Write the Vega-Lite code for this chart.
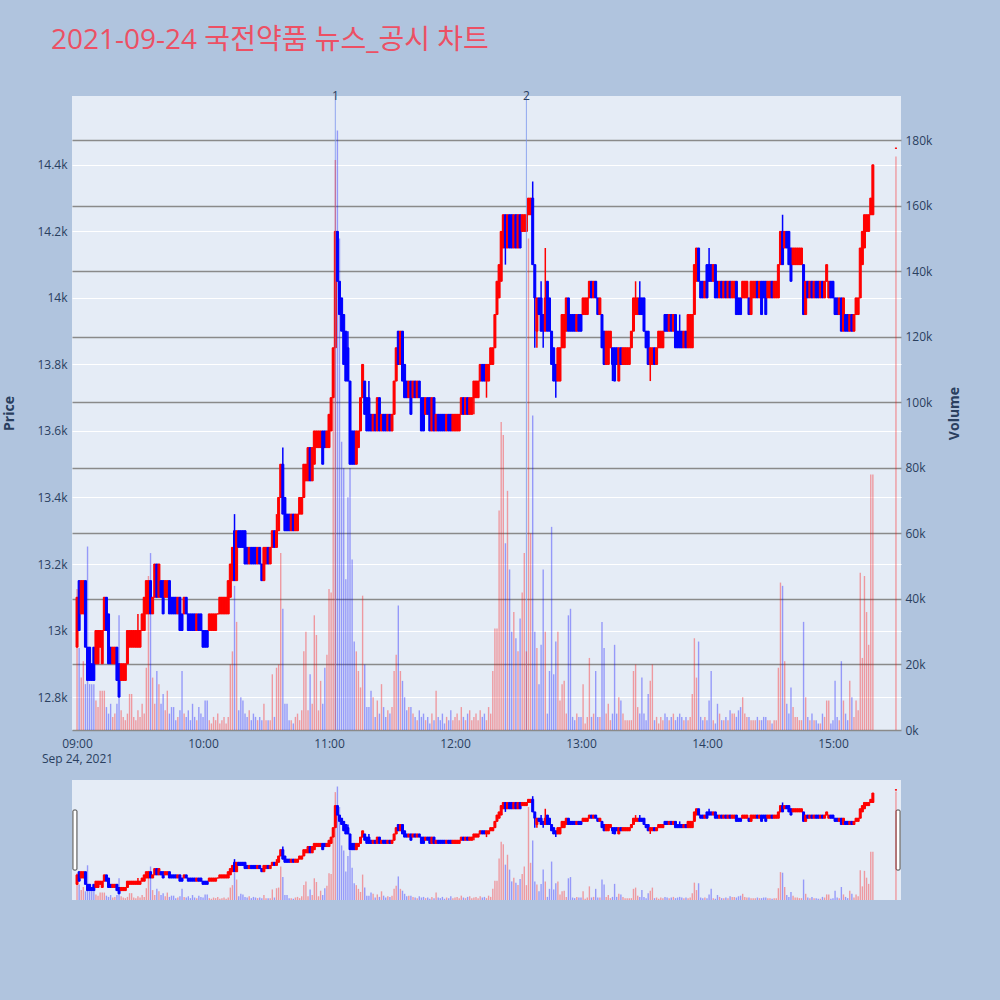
{
"$schema":"https://vega.github.io/schema/vega-lite/v6.json",
"background":"#b0c4de",
"padding":{"left":2,"top":27,"right":39,"bottom":100},
"bounds":"flush",
"spacing":50,
"title":{"text":"2021-09-24 국전약품 뉴스_공시 차트","anchor":"start","frame":"bounds","font":"Open Sans, Noto Sans CJK KR","fontSize":28,"fontWeight":"normal","color":"#ec5064","dx":49,"offset":13,"baseline":"alphabetic"},
"datasets":{
"news":[{"t":"2021-09-24T11:03","n":"1"},{"t":"2021-09-24T12:34","n":"2"}],
"k":[
{"t":"2021-09-24T09:00","o":12950,"h":13100,"l":12950,"c":13100,"v":43000},
{"t":"2021-09-24T09:01","o":13150,"h":13150,"l":13000,"c":13000,"v":25000},
{"t":"2021-09-24T09:02","o":13050,"h":13150,"l":13050,"c":13150,"v":16000},
{"t":"2021-09-24T09:03","o":13050,"h":13150,"l":13050,"c":13150,"v":21000},
{"t":"2021-09-24T09:04","o":13150,"h":13150,"l":12950,"c":12950,"v":14000},
{"t":"2021-09-24T09:05","o":12950,"h":12950,"l":12850,"c":12850,"v":56000},
{"t":"2021-09-24T09:06","o":12950,"h":12950,"l":12850,"c":12850,"v":14000},
{"t":"2021-09-24T09:07","o":12900,"h":12900,"l":12850,"c":12850,"v":14000},
{"t":"2021-09-24T09:08","o":12950,"h":12950,"l":12850,"c":12850,"v":14000},
{"t":"2021-09-24T09:09","o":12900,"h":13000,"l":12900,"c":13000,"v":9000},
{"t":"2021-09-24T09:10","o":12900,"h":13000,"l":12900,"c":13000,"v":7000},
{"t":"2021-09-24T09:11","o":12950,"h":13000,"l":12950,"c":13000,"v":12000},
{"t":"2021-09-24T09:12","o":12900,"h":13000,"l":12900,"c":13000,"v":12000},
{"t":"2021-09-24T09:13","o":13000,"h":13100,"l":13000,"c":13100,"v":12000},
{"t":"2021-09-24T09:14","o":13100,"h":13100,"l":13000,"c":13000,"v":7000},
{"t":"2021-09-24T09:15","o":13050,"h":13050,"l":12900,"c":12900,"v":5000},
{"t":"2021-09-24T09:16","o":12950,"h":12950,"l":12900,"c":12900,"v":8000},
{"t":"2021-09-24T09:17","o":12900,"h":12950,"l":12900,"c":12950,"v":4000},
{"t":"2021-09-24T09:18","o":12900,"h":12950,"l":12900,"c":12950,"v":5000},
{"t":"2021-09-24T09:19","o":12950,"h":12950,"l":12850,"c":12850,"v":8000},
{"t":"2021-09-24T09:20","o":12900,"h":12900,"l":12800,"c":12800,"v":35000},
{"t":"2021-09-24T09:21","o":12850,"h":12900,"l":12850,"c":12900,"v":6000},
{"t":"2021-09-24T09:22","o":12850,"h":12900,"l":12850,"c":12900,"v":4000},
{"t":"2021-09-24T09:23","o":12850,"h":12900,"l":12850,"c":12900,"v":3000},
{"t":"2021-09-24T09:24","o":12900,"h":13000,"l":12900,"c":13000,"v":5000},
{"t":"2021-09-24T09:25","o":12950,"h":13000,"l":12950,"c":13000,"v":11000},
{"t":"2021-09-24T09:26","o":12950,"h":13000,"l":12950,"c":13000,"v":11000},
{"t":"2021-09-24T09:27","o":12950,"h":13000,"l":12950,"c":13000,"v":4000},
{"t":"2021-09-24T09:28","o":12950,"h":13000,"l":12950,"c":13000,"v":3000},
{"t":"2021-09-24T09:29","o":12950,"h":13050,"l":12950,"c":13000,"v":6000},
{"t":"2021-09-24T09:30","o":12950,"h":13000,"l":12950,"c":13000,"v":4000},
{"t":"2021-09-24T09:31","o":13000,"h":13050,"l":13000,"c":13050,"v":8000},
{"t":"2021-09-24T09:32","o":13000,"h":13100,"l":13000,"c":13100,"v":5000},
{"t":"2021-09-24T09:33","o":13050,"h":13150,"l":13050,"c":13150,"v":19000},
{"t":"2021-09-24T09:34","o":13050,"h":13150,"l":13050,"c":13150,"v":47000},
{"t":"2021-09-24T09:35","o":13150,"h":13150,"l":13050,"c":13050,"v":54000},
{"t":"2021-09-24T09:36","o":13050,"h":13100,"l":13050,"c":13100,"v":16000},
{"t":"2021-09-24T09:37","o":13100,"h":13200,"l":13100,"c":13200,"v":8000},
{"t":"2021-09-24T09:38","o":13200,"h":13200,"l":13100,"c":13100,"v":18000},
{"t":"2021-09-24T09:39","o":13100,"h":13200,"l":13100,"c":13200,"v":14000},
{"t":"2021-09-24T09:40","o":13150,"h":13150,"l":13100,"c":13100,"v":8000},
{"t":"2021-09-24T09:41","o":13150,"h":13150,"l":13050,"c":13050,"v":11000},
{"t":"2021-09-24T09:42","o":13100,"h":13150,"l":13100,"c":13150,"v":6000},
{"t":"2021-09-24T09:43","o":13100,"h":13150,"l":13100,"c":13150,"v":12000},
{"t":"2021-09-24T09:44","o":13150,"h":13150,"l":13050,"c":13050,"v":5000},
{"t":"2021-09-24T09:45","o":13100,"h":13100,"l":13050,"c":13050,"v":7000},
{"t":"2021-09-24T09:46","o":13100,"h":13100,"l":13050,"c":13050,"v":7000},
{"t":"2021-09-24T09:47","o":13100,"h":13100,"l":13050,"c":13050,"v":3000},
{"t":"2021-09-24T09:48","o":13050,"h":13100,"l":13050,"c":13100,"v":4000},
{"t":"2021-09-24T09:49","o":13100,"h":13100,"l":13000,"c":13000,"v":6000},
{"t":"2021-09-24T09:50","o":13050,"h":13050,"l":13000,"c":13000,"v":18000},
{"t":"2021-09-24T09:51","o":13050,"h":13100,"l":13050,"c":13100,"v":5000},
{"t":"2021-09-24T09:52","o":13100,"h":13100,"l":13050,"c":13050,"v":4000},
{"t":"2021-09-24T09:53","o":13050,"h":13050,"l":13000,"c":13000,"v":6000},
{"t":"2021-09-24T09:54","o":13050,"h":13050,"l":13000,"c":13000,"v":3000},
{"t":"2021-09-24T09:55","o":13050,"h":13050,"l":13000,"c":13000,"v":8000},
{"t":"2021-09-24T09:56","o":13050,"h":13050,"l":13000,"c":13000,"v":4000},
{"t":"2021-09-24T09:57","o":13000,"h":13050,"l":13000,"c":13050,"v":3000},
{"t":"2021-09-24T09:58","o":13050,"h":13050,"l":13000,"c":13000,"v":7000},
{"t":"2021-09-24T09:59","o":13050,"h":13050,"l":13000,"c":13000,"v":5000},
{"t":"2021-09-24T10:00","o":13000,"h":13000,"l":12950,"c":12950,"v":4000},
{"t":"2021-09-24T10:01","o":13000,"h":13000,"l":12950,"c":12950,"v":9000},
{"t":"2021-09-24T10:02","o":13000,"h":13000,"l":12950,"c":12950,"v":9000},
{"t":"2021-09-24T10:03","o":13000,"h":13050,"l":13000,"c":13050,"v":3000},
{"t":"2021-09-24T10:04","o":13000,"h":13050,"l":13000,"c":13050,"v":2000},
{"t":"2021-09-24T10:05","o":13000,"h":13050,"l":13000,"c":13050,"v":4000},
{"t":"2021-09-24T10:06","o":13000,"h":13050,"l":13000,"c":13050,"v":3000},
{"t":"2021-09-24T10:07","o":13050,"h":13050,"l":13050,"c":13050,"v":5000},
{"t":"2021-09-24T10:08","o":13050,"h":13100,"l":13050,"c":13100,"v":2000},
{"t":"2021-09-24T10:09","o":13050,"h":13100,"l":13050,"c":13100,"v":3000},
{"t":"2021-09-24T10:10","o":13050,"h":13100,"l":13050,"c":13100,"v":4000},
{"t":"2021-09-24T10:11","o":13050,"h":13100,"l":13050,"c":13100,"v":2000},
{"t":"2021-09-24T10:12","o":13050,"h":13150,"l":13050,"c":13150,"v":4000},
{"t":"2021-09-24T10:13","o":13100,"h":13200,"l":13100,"c":13200,"v":20000},
{"t":"2021-09-24T10:14","o":13150,"h":13250,"l":13150,"c":13250,"v":24000},
{"t":"2021-09-24T10:15","o":13300,"h":13350,"l":13150,"c":13150,"v":44000},
{"t":"2021-09-24T10:16","o":13150,"h":13300,"l":13150,"c":13300,"v":33000},
{"t":"2021-09-24T10:17","o":13300,"h":13300,"l":13250,"c":13250,"v":6000},
{"t":"2021-09-24T10:18","o":13300,"h":13300,"l":13250,"c":13250,"v":10000},
{"t":"2021-09-24T10:19","o":13300,"h":13300,"l":13250,"c":13250,"v":9000},
{"t":"2021-09-24T10:20","o":13300,"h":13300,"l":13200,"c":13200,"v":5000},
{"t":"2021-09-24T10:21","o":13250,"h":13250,"l":13200,"c":13200,"v":4000},
{"t":"2021-09-24T10:22","o":13200,"h":13250,"l":13200,"c":13250,"v":6000},
{"t":"2021-09-24T10:23","o":13250,"h":13250,"l":13200,"c":13200,"v":3000},
{"t":"2021-09-24T10:24","o":13250,"h":13250,"l":13200,"c":13200,"v":5000},
{"t":"2021-09-24T10:25","o":13250,"h":13250,"l":13200,"c":13200,"v":4000},
{"t":"2021-09-24T10:26","o":13200,"h":13250,"l":13200,"c":13250,"v":3000},
{"t":"2021-09-24T10:27","o":13250,"h":13250,"l":13200,"c":13200,"v":4000},
{"t":"2021-09-24T10:28","o":13200,"h":13200,"l":13150,"c":13150,"v":3000},
{"t":"2021-09-24T10:29","o":13150,"h":13250,"l":13150,"c":13250,"v":8000},
{"t":"2021-09-24T10:30","o":13200,"h":13250,"l":13200,"c":13250,"v":3000},
{"t":"2021-09-24T10:31","o":13250,"h":13250,"l":13200,"c":13200,"v":3000},
{"t":"2021-09-24T10:32","o":13200,"h":13250,"l":13200,"c":13250,"v":3000},
{"t":"2021-09-24T10:33","o":13250,"h":13300,"l":13250,"c":13300,"v":17000},
{"t":"2021-09-24T10:34","o":13300,"h":13300,"l":13250,"c":13250,"v":4000},
{"t":"2021-09-24T10:35","o":13250,"h":13350,"l":13250,"c":13300,"v":19000},
{"t":"2021-09-24T10:36","o":13300,"h":13400,"l":13300,"c":13400,"v":20000},
{"t":"2021-09-24T10:37","o":13400,"h":13500,"l":13400,"c":13500,"v":54000},
{"t":"2021-09-24T10:38","o":13500,"h":13550,"l":13350,"c":13350,"v":37000},
{"t":"2021-09-24T10:39","o":13400,"h":13400,"l":13300,"c":13300,"v":8000},
{"t":"2021-09-24T10:40","o":13350,"h":13350,"l":13300,"c":13300,"v":8000},
{"t":"2021-09-24T10:41","o":13350,"h":13350,"l":13300,"c":13300,"v":3000},
{"t":"2021-09-24T10:42","o":13300,"h":13350,"l":13300,"c":13350,"v":3000},
{"t":"2021-09-24T10:43","o":13350,"h":13350,"l":13300,"c":13300,"v":2000},
{"t":"2021-09-24T10:44","o":13300,"h":13350,"l":13300,"c":13350,"v":4000},
{"t":"2021-09-24T10:45","o":13300,"h":13350,"l":13300,"c":13350,"v":5000},
{"t":"2021-09-24T10:46","o":13350,"h":13400,"l":13350,"c":13400,"v":3000},
{"t":"2021-09-24T10:47","o":13350,"h":13400,"l":13350,"c":13400,"v":6000},
{"t":"2021-09-24T10:48","o":13400,"h":13500,"l":13400,"c":13500,"v":24000},
{"t":"2021-09-24T10:49","o":13450,"h":13500,"l":13450,"c":13500,"v":30000},
{"t":"2021-09-24T10:50","o":13450,"h":13550,"l":13450,"c":13550,"v":6000},
{"t":"2021-09-24T10:51","o":13550,"h":13550,"l":13450,"c":13450,"v":17000},
{"t":"2021-09-24T10:52","o":13450,"h":13550,"l":13450,"c":13550,"v":8000},
{"t":"2021-09-24T10:53","o":13500,"h":13600,"l":13500,"c":13600,"v":35000},
{"t":"2021-09-24T10:54","o":13550,"h":13600,"l":13550,"c":13600,"v":29000},
{"t":"2021-09-24T10:55","o":13550,"h":13600,"l":13550,"c":13600,"v":6000},
{"t":"2021-09-24T10:56","o":13550,"h":13600,"l":13550,"c":13600,"v":15000},
{"t":"2021-09-24T10:57","o":13600,"h":13600,"l":13500,"c":13500,"v":8000},
{"t":"2021-09-24T10:58","o":13600,"h":13600,"l":13550,"c":13550,"v":19000},
{"t":"2021-09-24T10:59","o":13550,"h":13600,"l":13550,"c":13600,"v":23000},
{"t":"2021-09-24T11:00","o":13550,"h":13650,"l":13550,"c":13650,"v":43000},
{"t":"2021-09-24T11:01","o":13600,"h":13700,"l":13600,"c":13700,"v":42000},
{"t":"2021-09-24T11:02","o":13700,"h":13850,"l":13700,"c":13850,"v":115000},
{"t":"2021-09-24T11:03","o":13850,"h":14200,"l":13850,"c":14200,"v":174000},
{"t":"2021-09-24T11:04","o":14200,"h":14200,"l":14050,"c":14050,"v":183000},
{"t":"2021-09-24T11:05","o":14050,"h":14050,"l":13950,"c":13950,"v":150000},
{"t":"2021-09-24T11:06","o":14000,"h":14000,"l":13900,"c":13900,"v":88000},
{"t":"2021-09-24T11:07","o":13950,"h":13950,"l":13800,"c":13800,"v":80000},
{"t":"2021-09-24T11:08","o":13900,"h":13900,"l":13750,"c":13750,"v":46000},
{"t":"2021-09-24T11:09","o":13850,"h":13900,"l":13750,"c":13750,"v":71000},
{"t":"2021-09-24T11:10","o":13750,"h":13750,"l":13500,"c":13500,"v":80000},
{"t":"2021-09-24T11:11","o":13600,"h":13600,"l":13500,"c":13500,"v":52000},
{"t":"2021-09-24T11:12","o":13600,"h":13600,"l":13500,"c":13500,"v":27000},
{"t":"2021-09-24T11:13","o":13500,"h":13600,"l":13500,"c":13600,"v":24000},
{"t":"2021-09-24T11:14","o":13550,"h":13600,"l":13550,"c":13600,"v":18000},
{"t":"2021-09-24T11:15","o":13600,"h":13700,"l":13600,"c":13700,"v":13000},
{"t":"2021-09-24T11:16","o":13700,"h":13800,"l":13700,"c":13800,"v":41000},
{"t":"2021-09-24T11:17","o":13750,"h":13750,"l":13650,"c":13650,"v":20000},
{"t":"2021-09-24T11:18","o":13700,"h":13700,"l":13600,"c":13600,"v":7000},
{"t":"2021-09-24T11:19","o":13700,"h":13750,"l":13600,"c":13600,"v":7000},
{"t":"2021-09-24T11:20","o":13650,"h":13650,"l":13600,"c":13600,"v":12000},
{"t":"2021-09-24T11:21","o":13600,"h":13650,"l":13600,"c":13650,"v":10000},
{"t":"2021-09-24T11:22","o":13650,"h":13650,"l":13600,"c":13600,"v":4000},
{"t":"2021-09-24T11:23","o":13600,"h":13700,"l":13600,"c":13700,"v":9000},
{"t":"2021-09-24T11:24","o":13700,"h":13700,"l":13600,"c":13600,"v":5000},
{"t":"2021-09-24T11:25","o":13600,"h":13650,"l":13600,"c":13650,"v":14000},
{"t":"2021-09-24T11:26","o":13650,"h":13650,"l":13600,"c":13600,"v":7000},
{"t":"2021-09-24T11:27","o":13650,"h":13650,"l":13600,"c":13600,"v":4000},
{"t":"2021-09-24T11:28","o":13600,"h":13650,"l":13600,"c":13650,"v":6000},
{"t":"2021-09-24T11:29","o":13650,"h":13650,"l":13600,"c":13600,"v":5000},
{"t":"2021-09-24T11:30","o":13600,"h":13650,"l":13600,"c":13650,"v":7000},
{"t":"2021-09-24T11:31","o":13650,"h":13750,"l":13650,"c":13750,"v":18000},
{"t":"2021-09-24T11:32","o":13750,"h":13850,"l":13750,"c":13850,"v":23000},
{"t":"2021-09-24T11:33","o":13900,"h":13900,"l":13800,"c":13800,"v":38000},
{"t":"2021-09-24T11:34","o":13800,"h":13900,"l":13800,"c":13900,"v":18000},
{"t":"2021-09-24T11:35","o":13900,"h":13900,"l":13750,"c":13750,"v":15000},
{"t":"2021-09-24T11:36","o":13800,"h":13800,"l":13700,"c":13700,"v":10000},
{"t":"2021-09-24T11:37","o":13750,"h":13750,"l":13700,"c":13700,"v":6000},
{"t":"2021-09-24T11:38","o":13700,"h":13750,"l":13700,"c":13750,"v":7000},
{"t":"2021-09-24T11:39","o":13750,"h":13750,"l":13650,"c":13650,"v":7000},
{"t":"2021-09-24T11:40","o":13700,"h":13750,"l":13700,"c":13750,"v":5000},
{"t":"2021-09-24T11:41","o":13750,"h":13750,"l":13700,"c":13700,"v":4000},
{"t":"2021-09-24T11:42","o":13700,"h":13750,"l":13700,"c":13750,"v":3000},
{"t":"2021-09-24T11:43","o":13750,"h":13750,"l":13700,"c":13700,"v":6000},
{"t":"2021-09-24T11:44","o":13700,"h":13700,"l":13600,"c":13600,"v":4000},
{"t":"2021-09-24T11:45","o":13700,"h":13700,"l":13600,"c":13600,"v":5000},
{"t":"2021-09-24T11:46","o":13650,"h":13700,"l":13650,"c":13700,"v":3000},
{"t":"2021-09-24T11:47","o":13700,"h":13700,"l":13650,"c":13650,"v":4000},
{"t":"2021-09-24T11:48","o":13700,"h":13700,"l":13600,"c":13600,"v":2000},
{"t":"2021-09-24T11:49","o":13600,"h":13700,"l":13600,"c":13700,"v":5000},
{"t":"2021-09-24T11:50","o":13700,"h":13700,"l":13600,"c":13600,"v":3000},
{"t":"2021-09-24T11:51","o":13600,"h":13650,"l":13600,"c":13650,"v":12000},
{"t":"2021-09-24T11:52","o":13650,"h":13650,"l":13600,"c":13600,"v":4000},
{"t":"2021-09-24T11:53","o":13650,"h":13650,"l":13600,"c":13600,"v":3000},
{"t":"2021-09-24T11:54","o":13650,"h":13650,"l":13600,"c":13600,"v":5000},
{"t":"2021-09-24T11:55","o":13650,"h":13650,"l":13600,"c":13600,"v":2000},
{"t":"2021-09-24T11:56","o":13600,"h":13650,"l":13600,"c":13650,"v":4000},
{"t":"2021-09-24T11:57","o":13650,"h":13650,"l":13600,"c":13600,"v":3000},
{"t":"2021-09-24T11:58","o":13650,"h":13650,"l":13600,"c":13600,"v":6000},
{"t":"2021-09-24T11:59","o":13600,"h":13650,"l":13600,"c":13650,"v":3000},
{"t":"2021-09-24T12:00","o":13600,"h":13650,"l":13600,"c":13650,"v":4000},
{"t":"2021-09-24T12:01","o":13600,"h":13650,"l":13600,"c":13650,"v":5000},
{"t":"2021-09-24T12:02","o":13600,"h":13650,"l":13600,"c":13650,"v":3000},
{"t":"2021-09-24T12:03","o":13650,"h":13700,"l":13650,"c":13700,"v":7000},
{"t":"2021-09-24T12:04","o":13700,"h":13700,"l":13650,"c":13650,"v":4000},
{"t":"2021-09-24T12:05","o":13650,"h":13700,"l":13650,"c":13700,"v":3000},
{"t":"2021-09-24T12:06","o":13700,"h":13700,"l":13650,"c":13650,"v":5000},
{"t":"2021-09-24T12:07","o":13650,"h":13700,"l":13650,"c":13700,"v":6000},
{"t":"2021-09-24T12:08","o":13650,"h":13700,"l":13650,"c":13700,"v":3000},
{"t":"2021-09-24T12:09","o":13700,"h":13750,"l":13650,"c":13750,"v":4000},
{"t":"2021-09-24T12:10","o":13700,"h":13750,"l":13700,"c":13750,"v":5000},
{"t":"2021-09-24T12:11","o":13700,"h":13750,"l":13700,"c":13750,"v":3000},
{"t":"2021-09-24T12:12","o":13750,"h":13800,"l":13750,"c":13800,"v":6000},
{"t":"2021-09-24T12:13","o":13800,"h":13800,"l":13750,"c":13750,"v":4000},
{"t":"2021-09-24T12:14","o":13800,"h":13800,"l":13750,"c":13750,"v":5000},
{"t":"2021-09-24T12:15","o":13750,"h":13800,"l":13700,"c":13800,"v":3000},
{"t":"2021-09-24T12:16","o":13750,"h":13800,"l":13750,"c":13800,"v":7000},
{"t":"2021-09-24T12:17","o":13800,"h":13850,"l":13800,"c":13850,"v":5000},
{"t":"2021-09-24T12:18","o":13800,"h":13850,"l":13800,"c":13850,"v":18000},
{"t":"2021-09-24T12:19","o":13850,"h":13950,"l":13850,"c":13950,"v":31000},
{"t":"2021-09-24T12:20","o":13950,"h":14050,"l":13950,"c":14050,"v":31000},
{"t":"2021-09-24T12:21","o":14000,"h":14100,"l":14000,"c":14100,"v":67000},
{"t":"2021-09-24T12:22","o":14050,"h":14200,"l":14050,"c":14200,"v":94000},
{"t":"2021-09-24T12:23","o":14150,"h":14250,"l":14150,"c":14250,"v":90000},
{"t":"2021-09-24T12:24","o":14250,"h":14250,"l":14100,"c":14150,"v":57000},
{"t":"2021-09-24T12:25","o":14150,"h":14250,"l":14150,"c":14250,"v":73000},
{"t":"2021-09-24T12:26","o":14250,"h":14250,"l":14150,"c":14150,"v":49000},
{"t":"2021-09-24T12:27","o":14250,"h":14250,"l":14150,"c":14150,"v":30000},
{"t":"2021-09-24T12:28","o":14150,"h":14250,"l":14150,"c":14250,"v":36000},
{"t":"2021-09-24T12:29","o":14250,"h":14250,"l":14150,"c":14150,"v":28000},
{"t":"2021-09-24T12:30","o":14150,"h":14250,"l":14150,"c":14250,"v":24000},
{"t":"2021-09-24T12:31","o":14250,"h":14250,"l":14150,"c":14150,"v":34000},
{"t":"2021-09-24T12:32","o":14200,"h":14250,"l":14200,"c":14250,"v":42000},
{"t":"2021-09-24T12:33","o":14200,"h":14250,"l":14200,"c":14250,"v":54000},
{"t":"2021-09-24T12:34","o":14200,"h":14250,"l":14200,"c":14250,"v":24000},
{"t":"2021-09-24T12:35","o":14250,"h":14300,"l":14250,"c":14300,"v":150000},
{"t":"2021-09-24T12:36","o":14250,"h":14300,"l":14250,"c":14300,"v":60000},
{"t":"2021-09-24T12:37","o":14300,"h":14350,"l":14100,"c":14100,"v":96000},
{"t":"2021-09-24T12:38","o":14100,"h":14100,"l":13850,"c":14000,"v":30000},
{"t":"2021-09-24T12:39","o":13900,"h":14000,"l":13850,"c":14000,"v":25000},
{"t":"2021-09-24T12:40","o":14000,"h":14000,"l":13950,"c":13950,"v":14000},
{"t":"2021-09-24T12:41","o":14000,"h":14050,"l":13900,"c":13900,"v":26000},
{"t":"2021-09-24T12:42","o":13950,"h":13950,"l":13850,"c":13900,"v":49000},
{"t":"2021-09-24T12:43","o":13900,"h":14150,"l":13900,"c":14000,"v":30000},
{"t":"2021-09-24T12:44","o":14050,"h":14050,"l":13900,"c":13900,"v":5000},
{"t":"2021-09-24T12:45","o":14000,"h":14000,"l":13900,"c":13900,"v":18000},
{"t":"2021-09-24T12:46","o":13900,"h":13900,"l":13800,"c":13800,"v":62000},
{"t":"2021-09-24T12:47","o":13850,"h":13850,"l":13750,"c":13750,"v":17000},
{"t":"2021-09-24T12:48","o":13800,"h":13800,"l":13700,"c":13750,"v":27000},
{"t":"2021-09-24T12:49","o":13750,"h":13850,"l":13750,"c":13850,"v":30000},
{"t":"2021-09-24T12:50","o":13750,"h":13850,"l":13750,"c":13850,"v":9000},
{"t":"2021-09-24T12:51","o":13850,"h":13950,"l":13850,"c":13950,"v":14000},
{"t":"2021-09-24T12:52","o":13850,"h":13950,"l":13850,"c":13950,"v":15000},
{"t":"2021-09-24T12:53","o":13900,"h":14000,"l":13900,"c":14000,"v":5000},
{"t":"2021-09-24T12:54","o":14000,"h":14000,"l":13900,"c":13900,"v":35000},
{"t":"2021-09-24T12:55","o":13950,"h":13950,"l":13900,"c":13900,"v":37000},
{"t":"2021-09-24T12:56","o":13950,"h":13950,"l":13900,"c":13900,"v":4000},
{"t":"2021-09-24T12:57","o":13950,"h":13950,"l":13900,"c":13900,"v":3000},
{"t":"2021-09-24T12:58","o":13900,"h":13950,"l":13900,"c":13950,"v":5000},
{"t":"2021-09-24T12:59","o":13950,"h":13950,"l":13900,"c":13900,"v":4000},
{"t":"2021-09-24T13:00","o":13950,"h":13950,"l":13900,"c":13900,"v":4000},
{"t":"2021-09-24T13:01","o":13950,"h":14000,"l":13950,"c":14000,"v":14000},
{"t":"2021-09-24T13:02","o":13950,"h":14000,"l":13950,"c":14000,"v":2000},
{"t":"2021-09-24T13:03","o":13950,"h":14000,"l":13950,"c":14000,"v":4000},
{"t":"2021-09-24T13:04","o":14000,"h":14050,"l":14000,"c":14050,"v":22000},
{"t":"2021-09-24T13:05","o":14050,"h":14050,"l":14000,"c":14000,"v":4000},
{"t":"2021-09-24T13:06","o":14000,"h":14050,"l":14000,"c":14050,"v":5000},
{"t":"2021-09-24T13:07","o":14050,"h":14050,"l":14000,"c":14000,"v":18000},
{"t":"2021-09-24T13:08","o":14000,"h":14000,"l":13950,"c":13950,"v":4000},
{"t":"2021-09-24T13:09","o":13950,"h":14000,"l":13950,"c":14000,"v":4000},
{"t":"2021-09-24T13:10","o":13950,"h":13950,"l":13850,"c":13850,"v":33000},
{"t":"2021-09-24T13:11","o":13900,"h":13900,"l":13800,"c":13800,"v":25000},
{"t":"2021-09-24T13:12","o":13800,"h":13900,"l":13800,"c":13900,"v":5000},
{"t":"2021-09-24T13:13","o":13800,"h":13900,"l":13800,"c":13900,"v":8000},
{"t":"2021-09-24T13:14","o":13850,"h":13900,"l":13850,"c":13900,"v":3000},
{"t":"2021-09-24T13:15","o":13850,"h":13850,"l":13750,"c":13800,"v":5000},
{"t":"2021-09-24T13:16","o":13850,"h":13850,"l":13750,"c":13750,"v":26000},
{"t":"2021-09-24T13:17","o":13850,"h":13850,"l":13800,"c":13800,"v":5000},
{"t":"2021-09-24T13:18","o":13750,"h":13850,"l":13750,"c":13850,"v":10000},
{"t":"2021-09-24T13:19","o":13850,"h":13850,"l":13800,"c":13800,"v":9000},
{"t":"2021-09-24T13:20","o":13800,"h":13850,"l":13800,"c":13850,"v":5000},
{"t":"2021-09-24T13:21","o":13800,"h":13850,"l":13800,"c":13850,"v":3000},
{"t":"2021-09-24T13:22","o":13800,"h":13850,"l":13800,"c":13850,"v":3000},
{"t":"2021-09-24T13:23","o":13800,"h":13850,"l":13800,"c":13850,"v":3000},
{"t":"2021-09-24T13:24","o":13850,"h":13900,"l":13850,"c":13900,"v":3000},
{"t":"2021-09-24T13:25","o":13900,"h":14000,"l":13900,"c":14000,"v":18000},
{"t":"2021-09-24T13:26","o":13950,"h":14050,"l":13950,"c":14000,"v":20000},
{"t":"2021-09-24T13:27","o":13950,"h":14000,"l":13950,"c":14000,"v":7000},
{"t":"2021-09-24T13:28","o":14000,"h":14050,"l":13950,"c":13950,"v":5000},
{"t":"2021-09-24T13:29","o":14000,"h":14000,"l":13950,"c":13950,"v":16000},
{"t":"2021-09-24T13:30","o":14000,"h":14000,"l":13900,"c":13900,"v":5000},
{"t":"2021-09-24T13:31","o":13900,"h":13900,"l":13850,"c":13850,"v":3000},
{"t":"2021-09-24T13:32","o":13900,"h":13900,"l":13800,"c":13800,"v":11000},
{"t":"2021-09-24T13:33","o":13800,"h":13850,"l":13750,"c":13850,"v":15000},
{"t":"2021-09-24T13:34","o":13800,"h":13850,"l":13800,"c":13850,"v":20000},
{"t":"2021-09-24T13:35","o":13850,"h":13850,"l":13800,"c":13800,"v":3000},
{"t":"2021-09-24T13:36","o":13800,"h":13850,"l":13800,"c":13850,"v":4000},
{"t":"2021-09-24T13:37","o":13850,"h":13900,"l":13850,"c":13900,"v":2000},
{"t":"2021-09-24T13:38","o":13850,"h":13900,"l":13850,"c":13900,"v":4000},
{"t":"2021-09-24T13:39","o":13850,"h":13900,"l":13850,"c":13900,"v":3000},
{"t":"2021-09-24T13:40","o":13950,"h":13950,"l":13900,"c":13900,"v":5000},
{"t":"2021-09-24T13:41","o":13950,"h":13950,"l":13900,"c":13900,"v":4000},
{"t":"2021-09-24T13:42","o":13900,"h":13950,"l":13900,"c":13950,"v":3000},
{"t":"2021-09-24T13:43","o":13950,"h":13950,"l":13900,"c":13900,"v":4000},
{"t":"2021-09-24T13:44","o":13900,"h":13950,"l":13900,"c":13950,"v":5000},
{"t":"2021-09-24T13:45","o":13950,"h":13950,"l":13850,"c":13850,"v":3000},
{"t":"2021-09-24T13:46","o":13900,"h":13900,"l":13850,"c":13850,"v":4000},
{"t":"2021-09-24T13:47","o":13900,"h":13950,"l":13850,"c":13850,"v":5000},
{"t":"2021-09-24T13:48","o":13900,"h":13900,"l":13850,"c":13850,"v":4000},
{"t":"2021-09-24T13:49","o":13850,"h":13900,"l":13850,"c":13900,"v":3000},
{"t":"2021-09-24T13:50","o":13900,"h":13900,"l":13850,"c":13850,"v":4000},
{"t":"2021-09-24T13:51","o":13850,"h":13950,"l":13850,"c":13950,"v":3000},
{"t":"2021-09-24T13:52","o":13850,"h":13950,"l":13850,"c":13950,"v":4000},
{"t":"2021-09-24T13:53","o":13850,"h":13950,"l":13850,"c":13950,"v":11000},
{"t":"2021-09-24T13:54","o":13950,"h":14100,"l":13950,"c":14100,"v":28000},
{"t":"2021-09-24T13:55","o":14050,"h":14150,"l":14050,"c":14150,"v":16000},
{"t":"2021-09-24T13:56","o":14150,"h":14150,"l":14050,"c":14050,"v":27000},
{"t":"2021-09-24T13:57","o":14050,"h":14050,"l":14000,"c":14000,"v":4000},
{"t":"2021-09-24T13:58","o":14050,"h":14050,"l":14000,"c":14000,"v":3000},
{"t":"2021-09-24T13:59","o":14000,"h":14050,"l":14000,"c":14050,"v":4000},
{"t":"2021-09-24T14:00","o":14100,"h":14100,"l":14000,"c":14000,"v":3000},
{"t":"2021-09-24T14:01","o":14100,"h":14150,"l":14050,"c":14050,"v":9000},
{"t":"2021-09-24T14:02","o":14100,"h":14100,"l":14050,"c":14050,"v":18000},
{"t":"2021-09-24T14:03","o":14050,"h":14100,"l":14050,"c":14100,"v":3000},
{"t":"2021-09-24T14:04","o":14100,"h":14100,"l":14000,"c":14000,"v":2000},
{"t":"2021-09-24T14:05","o":14050,"h":14050,"l":14000,"c":14000,"v":8000},
{"t":"2021-09-24T14:06","o":14000,"h":14050,"l":14000,"c":14050,"v":5000},
{"t":"2021-09-24T14:07","o":14050,"h":14050,"l":14000,"c":14000,"v":3000},
{"t":"2021-09-24T14:08","o":14000,"h":14050,"l":14000,"c":14050,"v":3000},
{"t":"2021-09-24T14:09","o":14050,"h":14050,"l":14000,"c":14000,"v":4000},
{"t":"2021-09-24T14:10","o":14000,"h":14050,"l":14000,"c":14050,"v":3000},
{"t":"2021-09-24T14:11","o":14050,"h":14050,"l":14000,"c":14000,"v":6000},
{"t":"2021-09-24T14:12","o":14000,"h":14050,"l":14000,"c":14050,"v":5000},
{"t":"2021-09-24T14:13","o":14000,"h":14050,"l":14000,"c":14050,"v":5000},
{"t":"2021-09-24T14:14","o":14050,"h":14050,"l":13950,"c":13950,"v":4000},
{"t":"2021-09-24T14:15","o":14000,"h":14000,"l":13950,"c":13950,"v":6000},
{"t":"2021-09-24T14:16","o":14000,"h":14000,"l":13950,"c":13950,"v":7000},
{"t":"2021-09-24T14:17","o":14000,"h":14050,"l":14000,"c":14050,"v":10000},
{"t":"2021-09-24T14:18","o":14000,"h":14050,"l":14000,"c":14050,"v":5000},
{"t":"2021-09-24T14:19","o":14000,"h":14050,"l":14000,"c":14050,"v":4000},
{"t":"2021-09-24T14:20","o":14000,"h":14000,"l":13950,"c":13950,"v":4000},
{"t":"2021-09-24T14:21","o":13950,"h":14050,"l":13950,"c":14050,"v":3000},
{"t":"2021-09-24T14:22","o":14000,"h":14050,"l":14000,"c":14050,"v":3000},
{"t":"2021-09-24T14:23","o":14000,"h":14050,"l":14000,"c":14050,"v":3000},
{"t":"2021-09-24T14:24","o":14050,"h":14050,"l":14000,"c":14000,"v":4000},
{"t":"2021-09-24T14:25","o":14000,"h":14050,"l":14000,"c":14050,"v":3000},
{"t":"2021-09-24T14:26","o":14050,"h":14050,"l":13950,"c":13950,"v":3000},
{"t":"2021-09-24T14:27","o":14050,"h":14050,"l":14000,"c":14000,"v":4000},
{"t":"2021-09-24T14:28","o":14050,"h":14050,"l":13950,"c":13950,"v":4000},
{"t":"2021-09-24T14:29","o":14000,"h":14050,"l":14000,"c":14050,"v":3000},
{"t":"2021-09-24T14:30","o":14000,"h":14050,"l":14000,"c":14050,"v":3000},
{"t":"2021-09-24T14:31","o":14050,"h":14050,"l":14000,"c":14000,"v":2000},
{"t":"2021-09-24T14:32","o":14000,"h":14050,"l":14000,"c":14050,"v":3000},
{"t":"2021-09-24T14:33","o":14000,"h":14050,"l":14000,"c":14050,"v":3000},
{"t":"2021-09-24T14:34","o":14000,"h":14100,"l":14000,"c":14100,"v":19000},
{"t":"2021-09-24T14:35","o":14100,"h":14200,"l":14100,"c":14200,"v":45000},
{"t":"2021-09-24T14:36","o":14200,"h":14250,"l":14100,"c":14100,"v":44000},
{"t":"2021-09-24T14:37","o":14150,"h":14200,"l":14150,"c":14200,"v":21000},
{"t":"2021-09-24T14:38","o":14200,"h":14200,"l":14150,"c":14150,"v":8000},
{"t":"2021-09-24T14:39","o":14200,"h":14200,"l":14100,"c":14100,"v":5000},
{"t":"2021-09-24T14:40","o":14150,"h":14150,"l":14050,"c":14050,"v":13000},
{"t":"2021-09-24T14:41","o":14100,"h":14150,"l":14100,"c":14150,"v":7000},
{"t":"2021-09-24T14:42","o":14100,"h":14150,"l":14100,"c":14150,"v":4000},
{"t":"2021-09-24T14:43","o":14100,"h":14150,"l":14100,"c":14150,"v":4000},
{"t":"2021-09-24T14:44","o":14100,"h":14150,"l":14100,"c":14150,"v":3000},
{"t":"2021-09-24T14:45","o":14100,"h":14150,"l":14100,"c":14150,"v":3000},
{"t":"2021-09-24T14:46","o":14100,"h":14100,"l":13950,"c":13950,"v":33000},
{"t":"2021-09-24T14:47","o":13950,"h":14050,"l":13950,"c":14050,"v":10000},
{"t":"2021-09-24T14:48","o":14050,"h":14050,"l":14000,"c":14000,"v":4000},
{"t":"2021-09-24T14:49","o":14000,"h":14050,"l":14000,"c":14050,"v":3000},
{"t":"2021-09-24T14:50","o":14050,"h":14050,"l":14000,"c":14000,"v":5000},
{"t":"2021-09-24T14:51","o":14000,"h":14050,"l":14000,"c":14050,"v":3000},
{"t":"2021-09-24T14:52","o":14050,"h":14050,"l":14000,"c":14000,"v":3000},
{"t":"2021-09-24T14:53","o":14050,"h":14050,"l":14000,"c":14000,"v":2000},
{"t":"2021-09-24T14:54","o":14000,"h":14050,"l":14000,"c":14050,"v":2000},
{"t":"2021-09-24T14:55","o":14050,"h":14050,"l":14000,"c":14000,"v":5000},
{"t":"2021-09-24T14:56","o":14000,"h":14050,"l":14000,"c":14050,"v":4000},
{"t":"2021-09-24T14:57","o":14050,"h":14100,"l":14050,"c":14100,"v":9000},
{"t":"2021-09-24T14:58","o":14000,"h":14050,"l":14000,"c":14050,"v":9000},
{"t":"2021-09-24T14:59","o":14050,"h":14050,"l":14000,"c":14000,"v":2000},
{"t":"2021-09-24T15:00","o":14050,"h":14050,"l":14000,"c":14000,"v":3000},
{"t":"2021-09-24T15:01","o":14000,"h":14000,"l":13950,"c":13950,"v":15000},
{"t":"2021-09-24T15:02","o":14000,"h":14000,"l":13950,"c":13950,"v":4000},
{"t":"2021-09-24T15:03","o":13950,"h":14000,"l":13950,"c":14000,"v":3000},
{"t":"2021-09-24T15:04","o":14000,"h":14000,"l":13900,"c":13900,"v":21000},
{"t":"2021-09-24T15:05","o":13900,"h":14000,"l":13900,"c":14000,"v":9000},
{"t":"2021-09-24T15:06","o":13950,"h":13950,"l":13900,"c":13900,"v":5000},
{"t":"2021-09-24T15:07","o":13950,"h":13950,"l":13900,"c":13900,"v":3000},
{"t":"2021-09-24T15:08","o":13900,"h":13950,"l":13900,"c":13950,"v":15000},
{"t":"2021-09-24T15:09","o":13950,"h":13950,"l":13900,"c":13900,"v":10000},
{"t":"2021-09-24T15:10","o":13900,"h":13950,"l":13900,"c":13950,"v":4000},
{"t":"2021-09-24T15:11","o":13950,"h":14000,"l":13950,"c":14000,"v":9000},
{"t":"2021-09-24T15:12","o":13950,"h":14000,"l":13950,"c":14000,"v":6000},
{"t":"2021-09-24T15:13","o":14000,"h":14150,"l":14000,"c":14150,"v":48000},
{"t":"2021-09-24T15:14","o":14100,"h":14200,"l":14100,"c":14200,"v":22000},
{"t":"2021-09-24T15:15","o":14150,"h":14250,"l":14150,"c":14250,"v":47000},
{"t":"2021-09-24T15:16","o":14200,"h":14250,"l":14200,"c":14250,"v":36000},
{"t":"2021-09-24T15:17","o":14200,"h":14250,"l":14200,"c":14250,"v":26000},
{"t":"2021-09-24T15:18","o":14250,"h":14300,"l":14250,"c":14300,"v":78000},
{"t":"2021-09-24T15:19","o":14250,"h":14400,"l":14250,"c":14400,"v":78000},
{"t":"2021-09-24T15:30","o":14450,"h":14450,"l":14450,"c":14450,"v":175000}
]},
"vconcat":[
{"width":829,"height":634,
 "layer":[
  {"layer":[
    {"data":{"name":"k"},
     "mark":{"type":"rule","strokeWidth":1.5},
     "encoding":{
      "x":{"field":"t","type":"temporal","title":null,
           "scale":{"padding":0,"domain":[{"year":2021,"month":9,"date":24,"hours":8,"minutes":57,"seconds":36},{"year":2021,"month":9,"date":24,"hours":15,"minutes":32,"seconds":24}]},
           "axis":{"values":[{"year":2021,"month":9,"date":24,"hours":9},{"year":2021,"month":9,"date":24,"hours":10},{"year":2021,"month":9,"date":24,"hours":11},{"year":2021,"month":9,"date":24,"hours":12},{"year":2021,"month":9,"date":24,"hours":13},{"year":2021,"month":9,"date":24,"hours":14},{"year":2021,"month":9,"date":24,"hours":15}],
                   "format":"%H:%M","grid":false,"labelPadding":8,"labelLineHeight":15,
                   "labelExpr":"datum.label == '09:00' ? ['09:00', 'Sep 24, 2021'] : datum.label"}},
      "y":{"field":"l","type":"quantitative","title":"Price",
           "scale":{"domain":[12701,14607],"nice":false,"zero":false},
           "axis":{"values":[12800,13000,13200,13400,13600,13800,14000,14200,14400],"format":"~s","grid":true,"gridColor":"#ffffff","gridWidth":1,"labelPadding":5,"titleAngle":270,"titleX":-56,"titleY":317,"titleBaseline":"bottom"}},
      "y2":{"field":"h"},
      "color":{"condition":{"test":"datum.c >= datum.o","value":"#ff0000"},"value":"#0000ff"}}},
    {"data":{"name":"k"},
     "mark":{"type":"bar","size":2,"strokeWidth":1},
     "encoding":{
      "x":{"field":"t","type":"temporal"},
      "y":{"field":"o","type":"quantitative"},
      "y2":{"field":"c"},
      "color":{"condition":{"test":"datum.c >= datum.o","value":"#ff0000"},"value":"#0000ff"},
      "stroke":{"condition":{"test":"datum.c >= datum.o","value":"#ff0000"},"value":"#0000ff"}}},
    {"data":{"name":"news"},
     "mark":{"type":"rule","strokeWidth":1,"color":"#7b96ee","opacity":0.8},
     "encoding":{"x":{"field":"t","type":"temporal"}}},
    {"data":{"name":"news"},
     "mark":{"type":"text","baseline":"middle","fontSize":12,"color":"#2a3f5f","font":"Open Sans","clip":false},
     "encoding":{"x":{"field":"t","type":"temporal"},"y":{"datum":14607,"type":"quantitative"},"text":{"field":"n"}}}
  ]},
  {"data":{"name":"k"},
   "mark":{"type":"bar","size":1.4,"opacity":0.35},
   "encoding":{
    "x":{"field":"t","type":"temporal"},
    "y":{"field":"v","type":"quantitative","title":"Volume",
         "scale":{"domain":[0,193500],"nice":false},
         "axis":{"orient":"right","values":[0,20000,40000,60000,80000,100000,120000,140000,160000,180000],"format":"~s","grid":true,"gridColor":"#8a8a8a","gridWidth":1.5,"labelPadding":4,"titleAngle":270,"titleX":60,"titleY":317,"titleBaseline":"bottom"}},
    "color":{"condition":{"test":"datum.c >= datum.o","value":"#ff0000"},"value":"#0000ff"}}}
 ],
 "resolve":{"scale":{"y":"independent"}}
},
{"width":829,"height":120,
 "layer":[
  {"layer":[
    {"data":{"name":"k"},
     "mark":{"type":"rule","strokeWidth":1.5},
     "encoding":{
      "x":{"field":"t","type":"temporal","axis":null,
           "scale":{"padding":0,"domain":[{"year":2021,"month":9,"date":24,"hours":8,"minutes":57,"seconds":36},{"year":2021,"month":9,"date":24,"hours":15,"minutes":32,"seconds":24}]}},
      "y":{"field":"l","type":"quantitative","axis":null,"scale":{"domain":[12701,14607],"nice":false,"zero":false}},
      "y2":{"field":"h"},
      "color":{"condition":{"test":"datum.c >= datum.o","value":"#ff0000"},"value":"#0000ff"}}},
    {"data":{"name":"k"},
     "mark":{"type":"bar","size":2,"strokeWidth":1},
     "encoding":{
      "x":{"field":"t","type":"temporal"},
      "y":{"field":"o","type":"quantitative"},
      "y2":{"field":"c"},
      "color":{"condition":{"test":"datum.c >= datum.o","value":"#ff0000"},"value":"#0000ff"},
      "stroke":{"condition":{"test":"datum.c >= datum.o","value":"#ff0000"},"value":"#0000ff"}}},
    {"data":{"values":[{"handle":"left"}]},
     "mark":{"type":"bar","size":4,"fill":"#ffffff","stroke":"#444444","strokeWidth":1,"cornerRadius":1},
     "encoding":{
      "x":{"datum":{"year":2021,"month":9,"date":24,"hours":8,"minutes":59},"type":"temporal"},
      "y":{"datum":14130,"type":"quantitative"},
      "y2":{"datum":13177}}},
    {"data":{"values":[{"handle":"right"}]},
     "mark":{"type":"bar","size":4,"fill":"#ffffff","stroke":"#444444","strokeWidth":1,"cornerRadius":1},
     "encoding":{
      "x":{"datum":{"year":2021,"month":9,"date":24,"hours":15,"minutes":31},"type":"temporal"},
      "y":{"datum":14130,"type":"quantitative"},
      "y2":{"datum":13177}}}
  ]},
  {"data":{"name":"k"},
   "mark":{"type":"bar","size":1.4,"opacity":0.35},
   "encoding":{
    "x":{"field":"t","type":"temporal"},
    "y":{"field":"v","type":"quantitative","axis":null,"scale":{"domain":[0,193500],"nice":false}},
    "color":{"condition":{"test":"datum.c >= datum.o","value":"#ff0000"},"value":"#0000ff"}}}
 ],
 "resolve":{"scale":{"y":"independent"}}
}
],
"config":{
 "view":{"fill":"#e5ecf6","stroke":null},
 "font":"Open Sans",
 "axis":{"ticks":false,"domain":false,"labelColor":"#2a3f5f","titleColor":"#2a3f5f","labelFontSize":12,"titleFontSize":14,"titleFontWeight":"bold","labelFont":"Open Sans","titleFont":"Open Sans"}
}
}
